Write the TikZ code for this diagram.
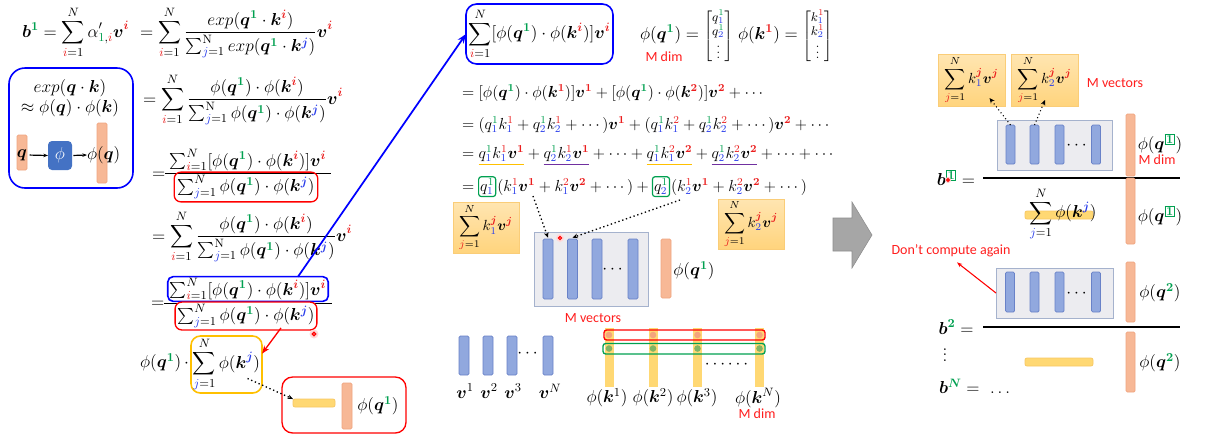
\RequirePackage{fix-cm}
\documentclass[tikz,border=0pt]{standalone}
\usepackage{amsmath}
\usepackage{bm}
\usepackage{fontspec}
\newfontfamily\sansf{Carlito}
\usetikzlibrary{arrows.meta,calc}
\definecolor{cg}{RGB}{0,160,80}
\definecolor{cr}{RGB}{235,30,30}
\definecolor{cb}{RGB}{40,60,235}
\definecolor{mred}{RGB}{255,30,30}
\definecolor{bbarF}{RGB}{145,168,222}
\definecolor{bbarD}{RGB}{105,130,200}
\definecolor{obarF}{RGB}{247,184,150}
\definecolor{obarD}{RGB}{240,165,128}
\definecolor{ybarF}{RGB}{255,216,115}
\definecolor{ybarD}{RGB}{248,200,100}
\definecolor{sboxF}{RGB}{255,212,125}
\definecolor{sboxD}{RGB}{250,205,120}
\definecolor{gboxF}{RGB}{236,236,240}
\definecolor{gboxD}{RGB}{165,178,205}
\definecolor{uorange}{RGB}{255,192,0}
\definecolor{upurple}{RGB}{112,48,160}
\definecolor{gold}{RGB}{255,192,0}
\definecolor{phiblue}{RGB}{68,114,196}
\definecolor{dotO}{RGB}{244,165,125}
\definecolor{dotG}{RGB}{130,180,100}
\definecolor{arrgray}{RGB}{166,166,166}
\newcommand\cG[1]{{\color{cg}#1}}
\newcommand\cR[1]{{\color{cr}#1}}
\newcommand\cB[1]{{\color{cb}#1}}
\newcommand\mq{\bm q^{\cG{\bm 1}}}
\newcommand\mki{\bm k^{\cR{\bm i}}}
\newcommand\mkj{\bm k^{\cB{\bm j}}}
\newcommand\mvi{\bm v^{\cR{\bm i}}}
\newcommand\mpq{\phi(\mq)}
\newcommand\mpki{\phi(\mki)}
\newcommand\mpkj{\phi(\mkj)}
\newcommand\gbx[1]{{\color{cg}\setlength{\fboxsep}{0.5pt}\setlength{\fboxrule}{0.7pt}\fbox{$#1$}}}
\begin{document}
\begin{tikzpicture}[x=0.75pt,y=-0.75pt,
 eq/.style={font=\fontsize{13}{15}\selectfont, inner sep=0pt, outer sep=0pt},
 eqm/.style={font=\fontsize{12}{14}\selectfont, inner sep=0pt, outer sep=0pt},
 eqs/.style={font=\fontsize{11}{13}\selectfont, inner sep=0pt, outer sep=0pt},
 lab/.style={font=\sansf\fontsize{10.5}{12}\selectfont, text=mred, inner sep=0pt},
 px/.style 2 args={minimum width=#1*0.75pt, minimum height=#2*0.75pt, inner sep=0pt, outer sep=0pt},
 bbar/.style={draw=bbarD, fill=bbarF, rounded corners=1pt, line width=0.6pt},
 obar/.style={draw=obarD, fill=obarF, rounded corners=1pt, line width=0.6pt},
 ybar/.style={draw=ybarD, fill=ybarF, rounded corners=1.5pt, line width=0.6pt},
 kbar/.style={fill=ybarF, draw=none},
 sbox/.style={draw=sboxD, top color=sboxF!60!white, bottom color=sboxF, line width=0.6pt},
 gbox/.style={draw=gboxD, fill=gboxF, line width=0.7pt},
 rbox/.style={draw=red, rounded corners=5pt, line width=1pt},
 dotarr/.style={dotted, line width=1pt, -{Stealth[length=4pt,width=3.5pt]}},
 ]
\fill[white] (0,0) rectangle (1210,437);
\useasboundingbox (0,0) rectangle (1210,437);

% ---------------- left column ----------------
\node[eq, anchor=base west] (e1) at (22,37) {$\bm b^{\cG{\bm 1}}=\displaystyle\sum_{\cR{i}=1}^{N}\alpha'_{\cG{1},\cR{i}}\bm v^{\cR{\bm i}}$};
\node[eq, anchor=base west] (e2) at (140,37) {$=\displaystyle\sum_{\cR{i}=1}^{N}\frac{exp(\mq\cdot\mki)}{\sum_{\cB{j}=1}^{\mathrm{N}}exp(\mq\cdot\mkj)}\mvi$};

\node[px={124}{120}, draw=blue, rounded corners=12pt, line width=1.2pt] (lbox) at (71,128) {};
\node[eq] (lt1) at (70,88) {$exp(\bm q\cdot\bm k)$};
\node[eq] (lt2) at (70,108) {$\approx\phi(\bm q)\cdot\phi(\bm k)$};
\node[obar, px={10}{35}] (lob1) at (22,152.5) {};
\node[obar, px={10}{60}] (lob2) at (102,153) {};
\node[eq] (lq) at (22,155) {$\bm q$};
\node[px={24}{29}, fill=phiblue, rounded corners=3pt, text=white, font=\fontsize{13}{15}\selectfont] (lphi) at (60,155.5) {$\phi$};
\node[eq, anchor=west] (lpq) at (87,155) {$\phi(\bm q)$};
\draw[-{Stealth[length=3.5pt]}, line width=0.9pt, shorten <=2pt] (lq.east) -- (lphi.west);
\draw[-{Stealth[length=3.5pt]}, line width=0.9pt, shorten <=1pt] (lphi.east) -- (lpq.west);

\node[eq, anchor=base west] (e3) at (143,104) {$=\displaystyle\sum_{\cR{i}=1}^{N}\frac{\mpq\cdot\mpki}{\sum_{\cB{j}=1}^{\mathrm{N}}\mpq\cdot\mpkj}\mvi$};

\node[eq, anchor=base west] (e4eq) at (152,178) {$=$};
\node[eq] (e4n) at (248,160) {$\sum_{\cR{i}=1}^{N}[\mpq\cdot\mpki]\mvi$};
\draw[line width=0.7pt] (165,173) -- (331,173);
\node[eq, rbox, inner sep=2.5pt] (e4d) at (246,187) {$\sum_{\cB{j}=1}^{N}\mpq\cdot\mpkj$};

\node[eq, anchor=base west] (e5) at (152,241) {$=\displaystyle\sum_{\cR{i}=1}^{N}\frac{\mpq\cdot\mpki}{\sum_{\cB{j}=1}^{\mathrm{N}}\mpq\cdot\mpkj}\mvi$};

\node[eq, anchor=base west] (e6eq) at (151,307) {$=$};
\draw[line width=0.7pt] (164,303) -- (332,303);
\node[eq, draw=blue, fill=white, rounded corners=4pt, line width=1.2pt, inner sep=1.5pt] (e6n) at (248,289) {$\sum_{\cR{i}=1}^{N}[\mpq\cdot\mpki]\mvi$};
\node[eq, rbox, fill=white, inner sep=1.8pt] (e6d) at (246,316) {$\sum_{\cB{j}=1}^{N}\mpq\cdot\mpkj$};

\fill[red!15] (314,334) circle (4.5);
\draw[red, line width=0.9pt] (314,334) circle (1.8);

\node[eq, anchor=east] (e7a) at (189,363) {$\mpq\,\cdot$};
\node[eq, px={71}{57}, draw=gold, rounded corners=7pt, line width=1.2pt] (e7b) at (226.5,364.5) {$\displaystyle\sum_{\cB{j}=1}^{N}\mpkj$};
\draw[red, line width=1pt, -{Stealth[length=6pt]}] ($(e6d.south)+(35,-2)$) -- (e7b.17);
\node[px={124}{56}, rbox, rounded corners=8pt] (e7c) at (344,405) {};
\node[ybar, px={42}{8}] (e7y) at (314,403) {};
\node[obar, px={10}{46}] (e7o) at (347,406) {};
\node[eq] (e7t) at (378,406) {$\mpq$};
\draw[dotarr] ($(e7b.center)+(21,14)$) -- (e7y.north west);

% ---------------- middle column ----------------
\node[eq, px={147}{60}, draw=blue, rounded corners=8pt, line width=1.2pt] (mbox) at (539.5,34) {$\displaystyle\sum_{\cR{i}=1}^{N}[\mpq\cdot\mpki]\mvi$};
\draw[blue, line width=1.3pt, -{Stealth[length=7pt]}] ($(e6n.north)+(50,0)$) -- (mbox.west);

\node[eq, anchor=west] (mq) at (640,36) {$\mpq=\mbox{\fontsize{9.5}{10}\selectfont\renewcommand\arraystretch{0.78}$\left[\begin{matrix}q^{\cG{1}}_{\cB{1}}\\ q^{\cG{1}}_{\cB{2}}\\ \vdots\end{matrix}\right]$}$};
\node[lab] (mdim1) at (664,57) {M dim};
\node[eq, anchor=west] (mk) at (738,36) {$\phi(\bm k^{\cR{\bm 1}})=\mbox{\fontsize{9.5}{10}\selectfont\renewcommand\arraystretch{0.78}$\left[\begin{matrix}k^{\cR{1}}_{\cB{1}}\\ k^{\cR{1}}_{\cB{2}}\\ \vdots\end{matrix}\right]$}$};

\node[eqm, anchor=base west] (r1) at (462,97) {$=[\mpq\cdot\phi(\bm k^{\cR{\bm 1}})]\bm v^{\cR{\bm 1}}+[\mpq\cdot\phi(\bm k^{\cR{\bm 2}})]\bm v^{\cR{\bm 2}}+\cdots$};
\node[eqm, anchor=base west] (r2) at (462,129) {$=(q^{\cG 1}_{\cB 1}k^{\cR 1}_{\cB 1}+q^{\cG 1}_{\cB 2}k^{\cR 1}_{\cB 2}+\cdots)\bm v^{\cR{\bm 1}}+(q^{\cG 1}_{\cB 1}k^{\cR 2}_{\cB 1}+q^{\cG 1}_{\cB 2}k^{\cR 2}_{\cB 2}+\cdots)\bm v^{\cR{\bm 2}}+\cdots$};

\node[eqm, anchor=base west] (r3a) at (462,158) {$={}$};
\node[eqm, anchor=base west] (r3b) at (r3a.base east) {$q^{\cG 1}_{\cB 1}k^{\cR 1}_{\cB 1}\bm v^{\cR{\bm 1}}$};
\node[eqm, anchor=base west] (r3c) at (r3b.base east) {${}+{}$};
\node[eqm, anchor=base west] (r3d) at (r3c.base east) {$q^{\cG 1}_{\cB 2}k^{\cR 1}_{\cB 2}\bm v^{\cR{\bm 1}}$};
\node[eqm, anchor=base west] (r3e) at (r3d.base east) {${}+\cdots+{}$};
\node[eqm, anchor=base west] (r3f) at (r3e.base east) {$q^{\cG 1}_{\cB 1}k^{\cR 2}_{\cB 1}\bm v^{\cR{\bm 2}}$};
\node[eqm, anchor=base west] (r3g) at (r3f.base east) {${}+{}$};
\node[eqm, anchor=base west] (r3h) at (r3g.base east) {$q^{\cG 1}_{\cB 2}k^{\cR 2}_{\cB 2}\bm v^{\cR{\bm 2}}$};
\node[eqm, anchor=base west] (r3i) at (r3h.base east) {${}+\cdots+\cdots$};
\draw[uorange, line width=1.2pt] ([yshift=-2pt]r3b.south west) -- ([yshift=-2pt]r3b.south east);
\draw[upurple, line width=1.2pt] ([yshift=-2pt]r3d.south west) -- ([yshift=-2pt]r3d.south east);
\draw[uorange, line width=1.2pt] ([yshift=-2pt]r3f.south west) -- ([yshift=-2pt]r3f.south east);
\draw[upurple, line width=1.2pt] ([yshift=-2pt]r3h.south west) -- ([yshift=-2pt]r3h.south east);

\node[eqm, anchor=base west] (r4a) at (462,191) {$={}$};
\node[eqm, anchor=base west, draw=cg, rounded corners=2pt, line width=0.9pt, inner sep=1.2pt] (r4b) at (r4a.base east) {$q^{\cG 1}_{\cB 1}$};
\node[eqm, anchor=base west] (r4c) at ([xshift=1.2pt]r4b.base east) {$(k^{\cR 1}_{\cB 1}\bm v^{\cR{\bm 1}}+k^{\cR 2}_{\cB 1}\bm v^{\cR{\bm 2}}+\cdots)+{}$};
\node[eqm, anchor=base west, draw=cg, rounded corners=2pt, line width=0.9pt, inner sep=1.2pt] (r4d) at (r4c.base east) {$q^{\cG 1}_{\cB 2}$};
\node[eqm, anchor=base west] (r4e) at ([xshift=1.2pt]r4d.base east) {$(k^{\cR 1}_{\cB 2}\bm v^{\cR{\bm 1}}+k^{\cR 2}_{\cB 2}\bm v^{\cR{\bm 2}}+\cdots)$};

\node[sbox, px={66}{51}] (sb1) at (486,227.5) {};
\node[eqs] (sb1t) at (486,227.5) {$\displaystyle\sum_{\cR{j}=1}^{N}k^{\cR{\bm j}}_{\cB 1}\bm v^{\cR{\bm j}}$};
\node[sbox, px={66}{50}] (sb2) at (751,224) {};
\node[eqs] (sb2t) at (751,224) {$\displaystyle\sum_{\cR{j}=1}^{N}k^{\cR{\bm j}}_{\cB 2}\bm v^{\cR{\bm j}}$};

\node[gbox, px={114}{74}] (gb1) at (591,269) {};
\node[bbar, px={10}{60}] (bb1) at (548,269) {};
\node[bbar, px={10}{60}] (bb2) at (572.5,269) {};
\node[bbar, px={10}{60}] (bb3) at (597,269) {};
\node[bbar, px={10}{60}] (bb4) at (633,269) {};
\node[eq] (gd1) at (614,270) {$\cdots$};
\node[obar, px={10}{59}] (ob2) at (666,268.5) {};
\node[eq] (ob2t) at (694,271) {$\mpq$};
\fill[red!15] (560,238) circle (4);
\draw[red, line width=0.9pt] (560,238) circle (1.6);
\coordinate (d1) at (533,196);
\coordinate (d2) at (680,200);
\draw[dotarr] (d1) -- ([yshift=1pt]bb1.north);
\draw[dotarr] (d2) -- ([yshift=1pt]bb2.north);
\node[lab] (mvec1) at (593,318) {M vectors};

\node[bbar, px={10}{39}] (vb1) at (464,355.5) {};
\node[bbar, px={10}{39}] (vb2) at (488,355.5) {};
\node[bbar, px={10}{39}] (vb3) at (512,355.5) {};
\node[bbar, px={10}{39}] (vb4) at (548,355.5) {};
\node[eq] (vdots) at (529,354) {$\cdots$};
\node[eq] (vl1) at (465,391) {$\bm v^{1}$};
\node[eq] (vl2) at (489,391) {$\bm v^{2}$};
\node[eq] (vl3) at (513,391) {$\bm v^{3}$};
\node[eq] (vl4) at (550,391) {$\bm v^{N}$};

\node[kbar, px={9}{59}] (kb1) at (609,357.5) {};
\node[kbar, px={9}{59}] (kb2) at (653,357.5) {};
\node[kbar, px={9}{59}] (kb3) at (697.5,357.5) {};
\node[kbar, px={9}{59}] (kb4) at (759.5,357.5) {};
\foreach \n in {kb1,kb2,kb3,kb4}{
  \fill[dotO] (\n.center |- 0,335) circle (3.3);
  \fill[dotG] (\n.center |- 0,348.5) circle (3.3);
}
\draw[red, line width=1pt, rounded corners=2pt] (604,330) rectangle (765,340);
\draw[cg, line width=1pt, rounded corners=2pt] (603,343.5) rectangle (765,354);
\node[eq] (kdots) at (728,365) {$\cdots\cdots$};
\node[eq] (kl1) at (607,398) {$\phi(\bm k^{1})$};
\node[eq] (kl2) at (653,398) {$\phi(\bm k^{2})$};
\node[eq] (kl3) at (697,398) {$\phi(\bm k^{3})$};
\node[eq] (kl4) at (758,398) {$\phi(\bm k^{N})$};
\node[lab] (mdim2) at (757,414) {M dim};

% ---------------- gray block arrow ----------------
\fill[arrgray, draw=arrgray!85!black, line width=0.4pt] (833,218) -- (852,218) -- (852,202) -- (872,235) -- (852,268) -- (852,251) -- (833,251) -- cycle;

% ---------------- right column ----------------
\node[sbox, px={67}{52}] (sb3) at (971.5,80) {};
\node[eqs] (sb3t) at (971.5,80) {$\displaystyle\sum_{\cR{j}=1}^{N}k^{\cR{\bm j}}_{\cB 1}\bm v^{\cR{\bm j}}$};
\node[sbox, px={67}{52}] (sb4) at (1044.5,80) {};
\node[eqs] (sb4t) at (1044.5,80) {$\displaystyle\sum_{\cR{j}=1}^{N}k^{\cR{\bm j}}_{\cB 2}\bm v^{\cR{\bm j}}$};
\node[lab] (mvec2) at (1115,83) {M vectors};

\node[gbox, px={115}{50}] (gb2) at (1054.5,145) {};
\node[bbar, px={9}{39}] (rb1) at (1010.5,144.5) {};
\node[bbar, px={9}{39}] (rb2) at (1034.5,144.5) {};
\node[bbar, px={9}{39}] (rb3) at (1059.5,144.5) {};
\node[bbar, px={9}{39}] (rb4) at (1096,144.5) {};
\node[eq] (gd2) at (1078,146) {$\cdots$};
\draw[dotarr, line width=0.8pt] (rb1.north) -- ($(sb3.south)+(18,-8)$);
\draw[dotarr, line width=0.8pt] (rb2.north) -- ($(sb4.south)+(0.5,-6)$);
\node[obar, px={9}{62}] (ob3) at (1130.5,145) {};
\node[eq] (ob3t) at (1160,144) {$\phi(\bm q^{\gbx{\scriptstyle\bm 1}})$};
\node[lab] (mdim3) at (1157,160) {M dim};

\node[eq] (b1t) at (956,178) {$\bm b^{\gbx{\scriptstyle\bm 1}}=$};
\fill[red!20] (948,180) circle (3);
\draw[red, line width=0.8pt] (948,180) circle (1.4);
\draw[line width=1.1pt] (983,178) -- (1180,178);

\node[ybar, px={68}{8}] (yb2) at (1059,215) {};
\node[eq] (sk) at (1063,214) {$\displaystyle\sum_{\cB{j}=1}^{N}\phi(\mkj)$};
\node[obar, px={9}{66}] (ob4) at (1130.5,211) {};
\node[eq] (ob4t) at (1160,216) {$\phi(\bm q^{\gbx{\scriptstyle\bm 1}})$};

\node[lab] (dca) at (951,251) {Don’t compute again};
\node[gbox, px={117}{50}] (gb3) at (1054.5,293) {};
\node[bbar, px={9}{40}] (sb31) at (1010,292) {};
\node[bbar, px={9}{40}] (sb32) at (1034.5,292) {};
\node[bbar, px={9}{40}] (sb33) at (1059.5,292) {};
\node[bbar, px={9}{40}] (sb34) at (1096,292) {};
\node[eq] (gd3) at (1078,294) {$\cdots$};
\draw[red, line width=0.8pt, -{Stealth[length=4pt]}] (gb3.west) -- ($(dca.south)+(6,5)$);
\node[obar, px={9}{60}] (ob5) at (1130.5,292) {};
\node[eq] (ob5t) at (1160,293) {$\phi(\bm q^{\cG{\bm 2}})$};

\node[eq] (b2t) at (956,327) {$\bm b^{\cG{\bm 2}}=$};
\draw[line width=1.1pt] (983,327) -- (1180,327);
\node[eq] (bvd) at (945,351) {$\vdots$};
\node[ybar, px={68}{8}] (yb3) at (1059,362) {};
\node[obar, px={9}{60}] (ob6) at (1130.5,362) {};
\node[eq] (ob6t) at (1160,363) {$\phi(\bm q^{\cG{\bm 2}})$};
\node[eq, anchor=west] (bNt) at (939,386) {$\bm b^{\cG{\bm N}}=\ \ldots$};
\end{tikzpicture}
\end{document}
